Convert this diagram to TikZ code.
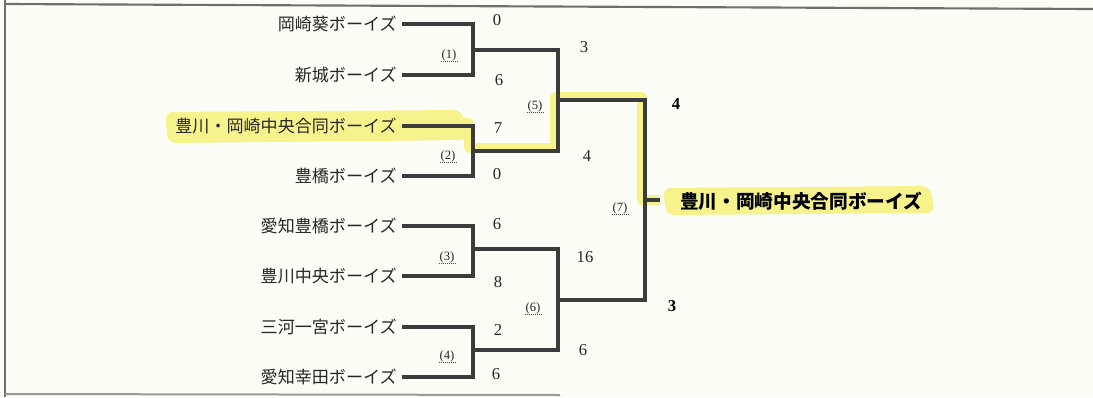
\documentclass[tikz,border=0pt]{standalone}
\usepackage{fontspec}
\newfontfamily\jp{Noto Sans CJK JP}
\newfontfamily\num{Liberation Serif}
\definecolor{bg}{RGB}{251,252,246}
\definecolor{hl}{RGB}{246,242,140}
\definecolor{ln}{RGB}{60,60,60}
\definecolor{frm}{RGB}{110,110,110}
\tikzset{
  team/.style={anchor=east, inner xsep=3.75pt, inner ysep=0pt, font=\jp\fontsize{12.8}{13}\selectfont, text=black!85},
  score/.style={inner sep=0pt, font=\num\fontsize{12.5}{13}\selectfont, text=black!85},
  bscore/.style={inner sep=0pt, font=\num\bfseries\fontsize{12.5}{13}\selectfont, text=black},
  mlabel/.style={inner sep=0.6pt, font=\num\fontsize{9.5}{10}\selectfont, text=black!85},
  bracket/.style={draw=ln, line width=2.3pt},
  hlpath/.style={draw=hl, line width=7pt, line join=round},
  winner/.style={anchor=west, inner sep=0pt, font=\jp\bfseries\fontsize{14}{15}\selectfont, text=black},
}
\begin{document}
\begin{tikzpicture}[x=0.75pt, y=-0.75pt]
\useasboundingbox (0,0) rectangle (1093,397);
\fill[bg] (0,0) rectangle (1093,397);
% frame
\draw[frm, line width=2.2pt] (5,0) -- (5,397);
\draw[frm, line width=1.6pt] (5,4) -- (1093,9);
\draw[frm!70, line width=1.5pt] (5,394) -- (560,395);
% highlights
\fill[hl, rounded corners=6pt] (165,112) -- (462,110) -- (467,140) -- (168,143) -- cycle;
\fill[hl, rounded corners=6pt] (663,188) -- (930,186) -- (935,213) -- (666,215) -- cycle;
\draw[hlpath] (402,123) -- (469,123) -- (469,148) -- (555,148) -- (555,97) -- (642,97) -- (642,200) -- (660,200);
% teams
\node[team] (t1) at (402,24) {岡崎葵ボーイズ};
\node[team] (t2) at (402,75) {新城ボーイズ};
\node[team] (t3) at (402,126) {豊川・岡崎中央合同ボーイズ};
\node[team] (t4) at (402,176) {豊橋ボーイズ};
\node[team] (t5) at (402,226) {愛知豊橋ボーイズ};
\node[team] (t6) at (402,276) {豊川中央ボーイズ};
\node[team] (t7) at (402,327) {三河一宮ボーイズ};
\node[team] (t8) at (402,377) {愛知幸田ボーイズ};
% junctions
\coordinate (m1) at (473,50);
\coordinate (m2) at (473,151);
\coordinate (m3) at (473,249);
\coordinate (m4) at (473,350);
\coordinate (m5) at (558,100);
\coordinate (m6) at (558,300);
\coordinate (m7) at (645,200);
\coordinate (ws) at (660,200);
% brackets
\draw[bracket] (t1.east) -| (m1) |- (t2.east);
\draw[bracket] (t3.east) -| (m2) |- (t4.east);
\draw[bracket] (t5.east) -| (m3) |- (t6.east);
\draw[bracket] (t7.east) -| (m4) |- (t8.east);
\draw[bracket] (m1) -| (m5) |- (m2);
\draw[bracket] (m3) -| (m6) |- (m4);
\draw[bracket] (m5) -| (m7) |- (m6);
\draw[bracket] (m7) -- (ws);
% winner
\node[winner] (w) at (680,201) {豊川・岡崎中央合同ボーイズ};
% scores
\node[score] (s1) at (497,20) {0};
\node[score] (s2) at (499,80) {6};
\node[score] (s3) at (498,128) {7};
\node[score] (s4) at (497,174) {0};
\node[score] (s5) at (497,224) {6};
\node[score] (s6) at (498,282) {8};
\node[score] (s7) at (498,330) {2};
\node[score] (s8) at (496,374) {6};
\node[score] (s9) at (584,47) {3};
\node[score] (s10) at (587,156) {4};
\node[score] (s11) at (585,257) {16};
\node[score] (s12) at (583,350) {6};
\node[bscore] (s13) at (676,104) {4};
\node[bscore] (s14) at (672,306) {3};
% match labels
\foreach \n/\x/\y in {1/449/55, 2/448/156, 3/447/257, 4/447/356, 5/535/106, 6/533/308, 7/620/208} {
  \node[mlabel] (l\n) at (\x,\y) {(\n)};
  \draw[black!70, densely dotted, line width=0.5pt] (l\n.south west) -- (l\n.south east);
}
\end{tikzpicture}
\end{document}
